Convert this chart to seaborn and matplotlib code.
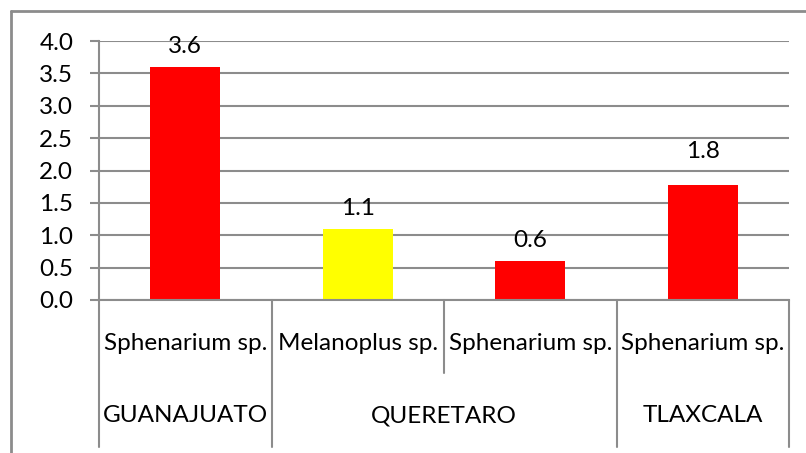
import matplotlib
matplotlib.use("Agg")
import matplotlib.pyplot as plt
import matplotlib.transforms as mtransforms
from matplotlib.lines import Line2D
import seaborn as sns
import pandas as pd

species = ["Sphenarium sp.", "Melanoplus sp.", "Sphenarium sp.", "Sphenarium sp."]
states = ["GUANAJUATO", "QUERETARO", "TLAXCALA"]
state_span = [1, 2, 1]
values = [3.6, 1.1, 0.6, 1.77]
value_labels = ["3.6", "1.1", "0.6", "1.8"]
genus = ["Sphenarium", "Melanoplus", "Sphenarium", "Sphenarium"]
yticks = [0.0, 0.5, 1.0, 1.5, 2.0, 2.5, 3.0, 3.5, 4.0]

sns.set_theme(style="white")
plt.rcParams['font.family'] = ['Lato', 'DejaVu Sans']
FS = 17.5

W, H = 806, 453
fig = plt.figure(figsize=(W / 100, H / 100), dpi=100)
L, R, T, B = 99, 789, 41, 300
ax = fig.add_axes([L / W, 1 - B / H, (R - L) / W, (B - T) / H])

df = pd.DataFrame({"slot": [str(i) for i in range(len(values))],
                   "value": values, "genus": genus})
sns.barplot(data=df, x="slot", y="value", hue="genus",
            palette={"Sphenarium": "#FF0000", "Melanoplus": "#FFFF00"},
            saturation=1, width=0.406, dodge=False, legend=False, ax=ax,
            edgecolor="none", linewidth=0)

ax.set_xlim(-0.5, len(values) - 0.5)
ax.set_ylim(0, 4.0)
ax.set_yticks(yticks)
ax.set_yticklabels([f"{v:.1f}" for v in yticks], fontsize=FS, color="black")
ax.set_xticks([])
ax.set_xlabel("")
ax.set_ylabel("")
ax.yaxis.grid(True, color="#8c8c8c", linewidth=1.5)
ax.set_axisbelow(True)
for s in ["top", "right"]:
    ax.spines[s].set_visible(False)
for s in ["left", "bottom"]:
    ax.spines[s].set_visible(True)
    ax.spines[s].set_color("#8c8c8c")
    ax.spines[s].set_linewidth(1.5)
ax.tick_params(axis="y", left=True, length=6.5, width=1.5, color="#8c8c8c",
               pad=12)

label_offsets = [7, 7, 7, 17]
for i, (v, lab) in enumerate(zip(values, value_labels)):
    ax.annotate(lab, (i, v), xytext=(0, label_offsets[i]),
                textcoords="offset points",
                ha="center", va="bottom", fontsize=FS, color="black")

trans = mtransforms.blended_transform_factory(ax.transData, fig.transFigure)
def fy(px):
    return 1 - px / H

for i, sp in enumerate(species):
    ax.text(i, fy(343), sp, transform=trans, ha="center", va="center",
            fontsize=FS, color="black")

pos = -0.5
bounds = [pos]
for span in state_span:
    pos += span
    bounds.append(pos)
for b in bounds:
    ax.add_line(Line2D([b, b], [fy(B), fy(447)], transform=trans,
                       color="#8c8c8c", linewidth=1.5, clip_on=False))
start = -0.5
for span in state_span:
    for k in range(1, span):
        x = start + k
        ax.add_line(Line2D([x, x], [fy(B), fy(373)], transform=trans,
                           color="#8c8c8c", linewidth=1.5, clip_on=False))
    start += span

start = -0.5
for st, span in zip(states, state_span):
    ax.text(start + span / 2, fy(416), st, transform=trans, ha="center",
            va="center", fontsize=FS, color="black")
    start += span

fig.add_artist(Line2D([11 / W, 11 / W], [fy(11), 0], transform=fig.transFigure,
                      color="#8c8c8c", linewidth=2))
fig.add_artist(Line2D([11 / W, 1], [fy(11), fy(11)], transform=fig.transFigure,
                      color="#8c8c8c", linewidth=2))

fig.savefig("out.png", dpi=100)
